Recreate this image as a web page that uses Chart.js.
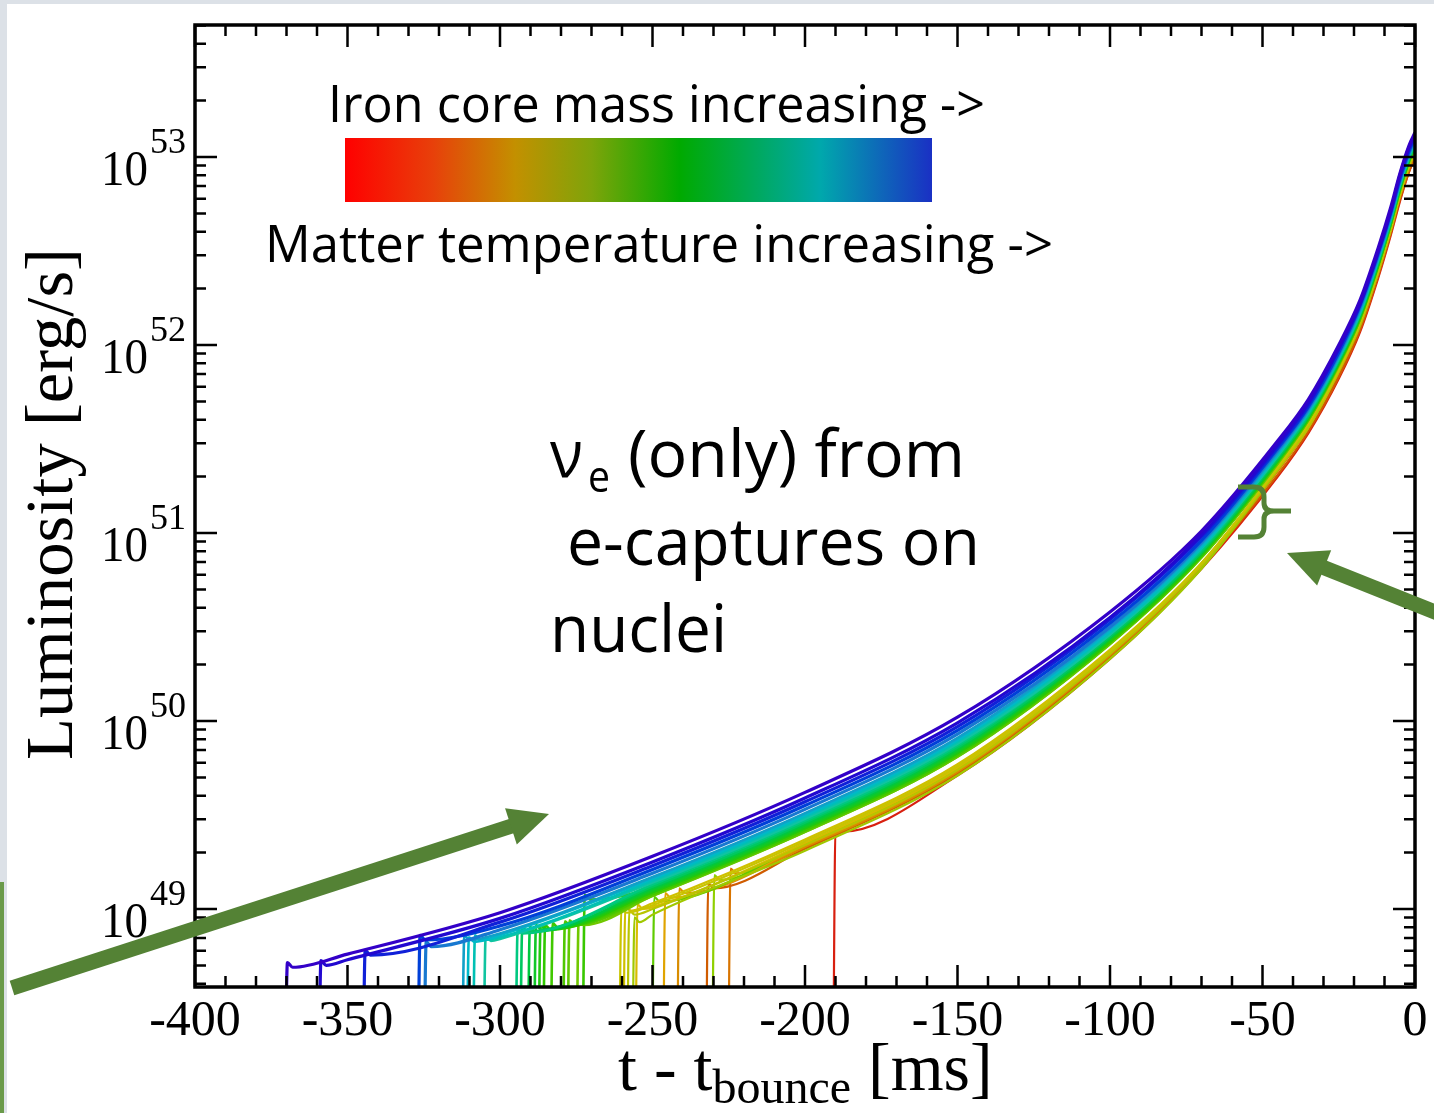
<!DOCTYPE html>
<html>
<head>
<meta charset="utf-8">
<script src="https://cdn.jsdelivr.net/npm/chart.js@4.4.0/dist/chart.umd.min.js"></script>
<style>
  html, body { margin: 0; padding: 0; background: #fff; }
  canvas { display: block; }
</style>
</head>
<body>
<canvas id="lum-chart" width="1434" height="1113"></canvas>
<script>
// time grid shared by all curves (ms before bounce)
const tGrid = [-350, -300, -250, -200, -150, -100, -70, -45, -35, -25, -18, -12, -8, -5, -2, 0];

// onset time of each model (ms) and log10 luminosity right after onset
const startTimes = [-370.5, -359.5, -345, -327, -325, -312.5, -311, -309, -305.5,
  -295, -293.5, -291, -289, -287.5, -286, -283.5, -279.5, -278, -275, -273,
  -261, -259.7, -258.4, -256.7, -255.7, -250.2, -246.6, -242, -232.5, -230.5, -225.2, -190.8];
const startLevels = [48.69, 48.70, 48.755, 48.835, 48.80, 48.835, 48.825, 48.835, 48.83,
  48.87, 48.88, 48.88, 48.89, 48.89, 48.89, 48.90, 48.91, 48.915, 48.915, 49.05,
  48.98, 48.99, 48.97, 48.93, 49.00, 49.04, 49.06, 49.085, 49.11, 49.155, 49.19, 49.41];

// log10 L [erg/s] at the last N grid times of tGrid
const curveLogL = [
  [48.76, 48.98, 49.28, 49.62, 50.02, 50.58, 51.01, 51.49, 51.71, 52.00, 52.24, 52.52, 52.73, 52.91, 53.06, 53.13],
  [48.73, 48.95, 49.25, 49.59, 49.99, 50.55, 50.99, 51.47, 51.69, 51.98, 52.22, 52.50, 52.71, 52.90, 53.05, 53.12],
  [48.93, 49.23, 49.57, 49.97, 50.54, 50.98, 51.46, 51.68, 51.98, 52.22, 52.50, 52.71, 52.89, 53.04, 53.11],
  [48.91, 49.21, 49.55, 49.95, 50.52, 50.96, 51.45, 51.67, 51.96, 52.21, 52.49, 52.70, 52.88, 53.03, 53.10],
  [48.89, 49.19, 49.53, 49.93, 50.50, 50.95, 51.44, 51.66, 51.95, 52.20, 52.48, 52.69, 52.87, 53.02, 53.09],
  [48.87, 49.17, 49.51, 49.91, 50.49, 50.94, 51.43, 51.65, 51.94, 52.19, 52.47, 52.68, 52.86, 53.01, 53.09],
  [48.86, 49.16, 49.50, 49.90, 50.48, 50.93, 51.42, 51.65, 51.94, 52.18, 52.46, 52.68, 52.86, 53.01, 53.08],
  [48.85, 49.15, 49.49, 49.89, 50.47, 50.92, 51.42, 51.64, 51.93, 52.18, 52.46, 52.67, 52.85, 53.01, 53.08],
  [48.84, 49.14, 49.48, 49.88, 50.46, 50.92, 51.41, 51.64, 51.93, 52.17, 52.46, 52.67, 52.85, 53.00, 53.08],
  [49.13, 49.47, 49.87, 50.46, 50.91, 51.41, 51.63, 51.92, 52.17, 52.45, 52.66, 52.85, 53.00, 53.07],
  [49.12, 49.46, 49.86, 50.45, 50.90, 51.40, 51.62, 51.92, 52.16, 52.45, 52.66, 52.84, 52.99, 53.07],
  [49.11, 49.45, 49.85, 50.44, 50.90, 51.39, 51.62, 51.91, 52.16, 52.44, 52.66, 52.84, 52.99, 53.06],
  [49.10, 49.44, 49.84, 50.44, 50.89, 51.39, 51.62, 51.91, 52.16, 52.44, 52.65, 52.83, 52.99, 53.06],
  [49.09, 49.43, 49.83, 50.43, 50.89, 51.39, 51.61, 51.91, 52.15, 52.43, 52.65, 52.83, 52.98, 53.06],
  [49.09, 49.43, 49.83, 50.42, 50.88, 51.38, 51.61, 51.90, 52.15, 52.43, 52.65, 52.83, 52.98, 53.06],
  [49.08, 49.42, 49.82, 50.42, 50.88, 51.38, 51.61, 51.90, 52.15, 52.43, 52.64, 52.83, 52.98, 53.05],
  [49.08, 49.42, 49.82, 50.42, 50.88, 51.38, 51.60, 51.90, 52.14, 52.43, 52.64, 52.82, 52.98, 53.05],
  [49.07, 49.41, 49.81, 50.41, 50.87, 51.37, 51.60, 51.90, 52.14, 52.43, 52.64, 52.82, 52.98, 53.05],
  [49.07, 49.41, 49.81, 50.41, 50.87, 51.37, 51.60, 51.89, 52.14, 52.42, 52.64, 52.82, 52.97, 53.05],
  [49.11, 49.45, 49.85, 50.44, 50.90, 51.40, 51.62, 51.92, 52.16, 52.44, 52.66, 52.84, 52.99, 53.07],
  [49.02, 49.36, 49.76, 50.37, 50.84, 51.35, 51.58, 51.87, 52.12, 52.40, 52.62, 52.80, 52.96, 53.03],
  [49.03, 49.37, 49.77, 50.38, 50.84, 51.35, 51.58, 51.87, 52.12, 52.41, 52.62, 52.80, 52.96, 53.03],
  [49.00, 49.34, 49.74, 50.36, 50.83, 51.34, 51.56, 51.86, 52.11, 52.39, 52.61, 52.79, 52.95, 53.02],
  [48.97, 49.31, 49.71, 50.33, 50.81, 51.34, 51.57, 51.87, 52.11, 52.40, 52.62, 52.80, 52.96, 53.03],
  [49.01, 49.35, 49.75, 50.36, 50.83, 51.34, 51.57, 51.87, 52.11, 52.40, 52.61, 52.80, 52.95, 53.03],
  [49.35, 49.75, 50.36, 50.83, 51.34, 51.57, 51.87, 52.11, 52.40, 52.61, 52.80, 52.95, 53.03],
  [49.34, 49.74, 50.36, 50.83, 51.34, 51.56, 51.86, 52.11, 52.39, 52.61, 52.79, 52.95, 53.02],
  [49.33, 49.73, 50.35, 50.82, 51.33, 51.56, 51.86, 52.10, 52.39, 52.61, 52.79, 52.94, 53.02],
  [49.32, 49.72, 50.34, 50.82, 51.31, 51.54, 51.83, 52.08, 52.37, 52.59, 52.77, 52.92, 53.00],
  [49.34, 49.74, 50.36, 50.83, 51.34, 51.56, 51.86, 52.11, 52.39, 52.61, 52.79, 52.95, 53.02],
  [49.33, 49.73, 50.34, 50.82, 51.33, 51.56, 51.85, 52.10, 52.39, 52.60, 52.79, 52.94, 53.02],
  [49.71, 50.33, 50.81, 51.30, 51.53, 51.82, 52.07, 52.36, 52.58, 52.76, 52.92, 52.99]
];

const curveColors = ['#3300c8', '#2208d0', '#1020d8', '#0040d8', '#1878d0', '#10a0c8', '#00b8c8', '#00c0b4', '#10c4a0',
  '#00c880', '#00c860', '#00c840', '#10c828', '#20c810', '#30c800', '#40c800', '#50c800', '#60c800', '#70c800', '#38c800',
  '#c8c400', '#d0c000', '#b8c400', '#a0c800', '#d8bc00', '#60cc00', '#e0a400', '#d88c00', '#d05c00', '#90d000', '#d87400', '#d82010'];

// axes
const xTicks = [-400, -350, -300, -250, -200, -150, -100, -50, 0];
const xMinorStep = 10;
const yExponents = [49, 50, 51, 52, 53];
const yMinLog = 48.585, yMaxLog = 53.702;

const floorLog = 48;   // onset starts below the axis
const bump = 0.025;    // small overshoot after onset

const datasets = startTimes.map(function (t0, i) {
    const vals = curveLogL[i];
    const times = tGrid.slice(tGrid.length - vals.length);
    const pts = [
        { x: t0, y: Math.pow(10, floorLog) },
        { x: t0 + 0.8, y: Math.pow(10, startLevels[i] + bump) },
        { x: t0 + 2.5, y: Math.pow(10, startLevels[i]) }
    ];
    times.forEach(function (t, k) { pts.push({ x: t, y: Math.pow(10, vals[k]) }); });
    return {
        data: pts,
        borderColor: curveColors[i],
        borderWidth: i < 5 ? 3.2 : (i < 20 ? 2.6 : 2.2),
        pointRadius: 0,
        fill: false,
        cubicInterpolationMode: 'monotone'
    };
});

const GREEN = '#548235';

function fitText(ctx, str, x, y, font, width) {
    ctx.font = font;
    const w = ctx.measureText(str).width;
    ctx.save();
    ctx.translate(x, y);
    ctx.scale(width / w, 1);
    ctx.fillText(str, 0, 0);
    ctx.restore();
}

function arrow(ctx, x0, y0, x1, y1, shaft, headLen, headHalf) {
    const dx = x1 - x0, dy = y1 - y0, L = Math.hypot(dx, dy);
    const ux = dx / L, uy = dy / L;
    const bx = x1 - ux * headLen, by = y1 - uy * headLen;
    ctx.save();
    ctx.strokeStyle = GREEN;
    ctx.fillStyle = GREEN;
    ctx.lineWidth = shaft;
    ctx.beginPath();
    ctx.moveTo(x0, y0);
    ctx.lineTo(bx + ux * 2, by + uy * 2);
    ctx.stroke();
    ctx.beginPath();
    ctx.moveTo(x1, y1);
    ctx.lineTo(bx - uy * headHalf, by + ux * headHalf);
    ctx.lineTo(bx + uy * headHalf, by - ux * headHalf);
    ctx.closePath();
    ctx.fill();
    ctx.restore();
}

const slide = {
    id: 'slide',
    beforeDraw(chart) {
        const ctx = chart.ctx, W = chart.width, H = chart.height;
        ctx.save();
        ctx.fillStyle = '#dce1e7';
        ctx.fillRect(0, 0, W, H);
        ctx.fillStyle = '#ffffff';
        ctx.fillRect(7, 4, W - 7, H - 4);
        ctx.fillStyle = '#6a9a4a';
        ctx.fillRect(0, 882, 4, H - 882);
        ctx.restore();
    },
    afterDraw(chart) {
        const ctx = chart.ctx, a = chart.chartArea;
        const xs = chart.scales.x, ys = chart.scales.y;
        ctx.save();
        ctx.strokeStyle = '#000';
        ctx.fillStyle = '#000';

        // ticks, pointing inward on all four sides
        ctx.lineWidth = 2.5;
        ctx.beginPath();
        for (let t = xTicks[0]; t <= xTicks[xTicks.length - 1]; t += xMinorStep) {
            const px = xs.getPixelForValue(t);
            const len = xTicks.indexOf(t) >= 0 ? 22 : 11;
            ctx.moveTo(px, a.bottom); ctx.lineTo(px, a.bottom - len);
            ctx.moveTo(px, a.top); ctx.lineTo(px, a.top + len);
        }
        for (let e = Math.floor(yMinLog); e <= Math.ceil(yMaxLog); e++) {
            for (let k = 1; k <= 9; k++) {
                const lg = e + Math.log10(k);
                if (lg < yMinLog || lg > yMaxLog) continue;
                const py = ys.getPixelForValue(k * Math.pow(10, e));
                const len = k === 1 ? 22 : 11;
                ctx.moveTo(a.left, py); ctx.lineTo(a.left + len, py);
                ctx.moveTo(a.right, py); ctx.lineTo(a.right - len, py);
            }
        }
        ctx.stroke();

        // frame
        ctx.lineWidth = 3.5;
        ctx.strokeRect(a.left, a.top, a.right - a.left, a.bottom - a.top);

        // x tick labels
        ctx.font = '50px "Liberation Serif", serif';
        ctx.textAlign = 'center';
        ctx.textBaseline = 'alphabetic';
        xTicks.forEach(function (t) {
            ctx.fillText(String(t), xs.getPixelForValue(t), 1035);
        });

        // y tick labels 10^n
        ctx.textAlign = 'left';
        yExponents.forEach(function (e) {
            const py = ys.getPixelForValue(Math.pow(10, e));
            fitText(ctx, '10', 101, py + 28, '51px "Liberation Serif", serif', 47);
            ctx.font = '36px "Liberation Serif", serif';
            ctx.fillText(String(e), 150, py - 4);
        });

        // axis titles
        ctx.font = '68px "Liberation Serif", serif';
        let x = 618;
        ctx.fillText('t - t', x, 1090);
        x += ctx.measureText('t - t').width;
        ctx.font = '48px "Liberation Serif", serif';
        ctx.fillText('bounce', x, 1103);
        x += ctx.measureText('bounce').width;
        ctx.font = '68px "Liberation Serif", serif';
        ctx.fillText(' [ms]', x, 1090);

        ctx.save();
        ctx.translate(72, 760);
        ctx.rotate(-Math.PI / 2);
        fitText(ctx, 'Luminosity [erg/s]', 0, 0, '68px "Liberation Serif", serif', 512);
        ctx.restore();

        // colour bar legend
        const sans = '"Open Sans", "Noto Sans", sans-serif';
        fitText(ctx, 'Iron core mass increasing ->', 328, 122, '52px ' + sans, 657);
        fitText(ctx, 'Matter temperature increasing ->', 265, 262, '52px ' + sans, 788);
        const g = ctx.createLinearGradient(345, 0, 932, 0);
        g.addColorStop(0, '#ff0000');
        g.addColorStop(0.15, '#e8400a');
        g.addColorStop(0.29, '#c39000');
        g.addColorStop(0.42, '#7ea40a');
        g.addColorStop(0.57, '#00aa00');
        g.addColorStop(0.81, '#00a8ac');
        g.addColorStop(1, '#1a30c4');
        ctx.fillStyle = g;
        ctx.fillRect(345, 138, 587, 64);
        ctx.fillStyle = '#000';

        // annotation text
        fitText(ctx, '\u03BD', 550, 477, '66px ' + sans, 33);
        fitText(ctx, 'e', 588, 492, '44px ' + sans, 22);
        fitText(ctx, '(only) from', 628, 477, '66px ' + sans, 337);
        fitText(ctx, 'e-captures on', 567, 565, '66px ' + sans, 413);
        fitText(ctx, 'nuclei', 550, 652, '66px ' + sans, 177);

        // green arrows and brace
        arrow(ctx, 12, 988, 549, 814, 15, 40, 19);
        arrow(ctx, 1445, 616, 1287, 553, 15, 40, 19);

        ctx.strokeStyle = GREEN;
        ctx.lineWidth = 5;
        ctx.lineCap = 'butt';
        ctx.beginPath();
        ctx.moveTo(1238, 487);
        ctx.lineTo(1254, 487);
        ctx.quadraticCurveTo(1264, 487, 1264, 497);
        ctx.lineTo(1264, 503);
        ctx.quadraticCurveTo(1264, 511, 1274, 511);
        ctx.lineTo(1291, 511);
        ctx.moveTo(1274, 511);
        ctx.quadraticCurveTo(1264, 511, 1264, 519);
        ctx.lineTo(1264, 527);
        ctx.quadraticCurveTo(1264, 537, 1254, 537);
        ctx.lineTo(1238, 537);
        ctx.stroke();

        ctx.restore();
    }
};

document.addEventListener('DOMContentLoaded', function () {
    const ctx = document.getElementById('lum-chart').getContext('2d');
    new Chart(ctx, {
        type: 'line',
        data: { datasets: datasets },
        options: {
            responsive: false,
            animation: false,
            devicePixelRatio: 1,
            layout: { padding: { left: 195, top: 25, right: 19, bottom: 126 } },
            scales: {
                x: { type: 'linear', min: -400, max: 0, display: false },
                y: { type: 'logarithmic', min: Math.pow(10, yMinLog), max: Math.pow(10, yMaxLog), display: false }
            },
            plugins: {
                legend: { display: false },
                tooltip: { enabled: false }
            }
        },
        plugins: [slide]
    });
});
</script>
</body>
</html>
